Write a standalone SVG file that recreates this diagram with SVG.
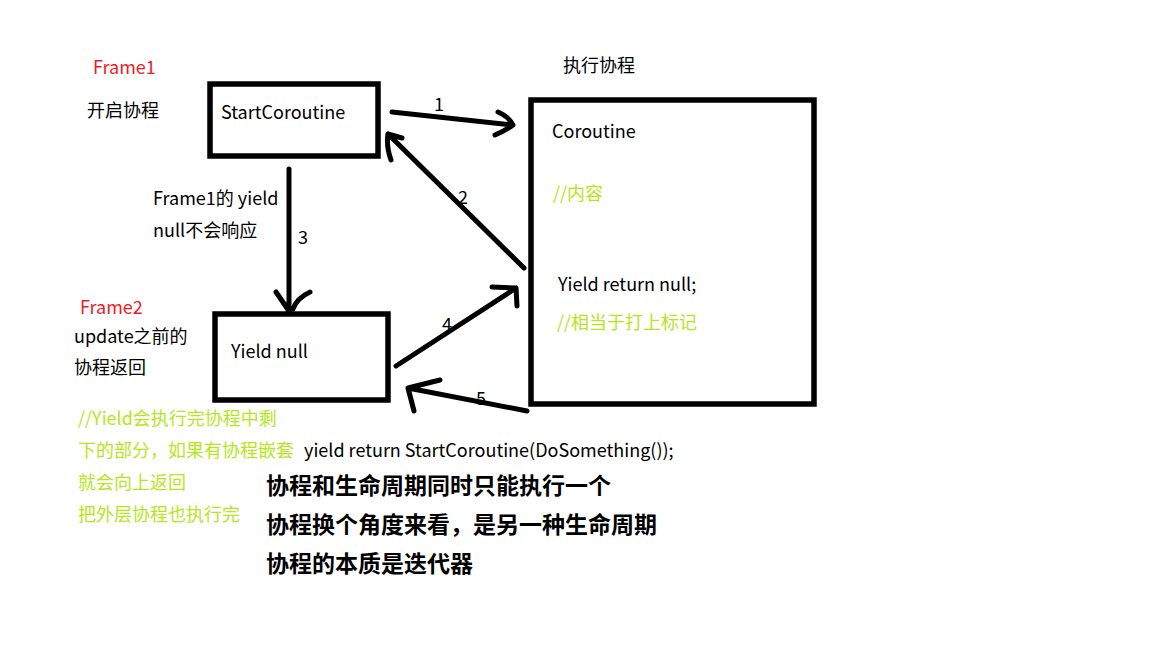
<svg xmlns="http://www.w3.org/2000/svg" width="1152" height="648" viewBox="0 0 1152 648">
<style>
.t{font-family:"Noto Sans CJK SC","Noto Sans",sans-serif;font-size:18px;fill:#000}
.r{fill:#ed1c24}
.g{fill:#b5e61d}
.b{font-weight:bold;font-size:23px}
.box{fill:none;stroke:#000;stroke-width:5.5}
.ln{fill:none;stroke:#000;stroke-width:5;stroke-linecap:round;stroke-linejoin:round}
</style>
<rect width="1152" height="648" fill="#fff"/>
<g id="start">
<rect class="box" x="210" y="84" width="168" height="72"/>
<text class="t" x="221" y="119">StartCoroutine</text>
</g>
<g id="coroutine">
<rect class="box" x="531" y="100" width="283" height="304"/>
<text class="t" x="552" y="138">Coroutine</text>
<text class="t g" x="553" y="200">//内容</text>
<text class="t" x="558" y="291">Yield return null;</text>
<text class="t g" x="557" y="329">//相当于打上标记</text>
</g>
<g id="yieldnull">
<rect class="box" x="215" y="314" width="173" height="86"/>
<text class="t" x="231" y="358">Yield null</text>
</g>
<g id="labels">
<text class="t r" x="93" y="74">Frame1</text>
<text class="t" x="87" y="117">开启协程</text>
<text class="t" x="563" y="72">执行协程</text>
<text class="t" x="153" y="205">Frame1的 yield</text>
<text class="t" x="153" y="237">null不会响应</text>
<text class="t r" x="80" y="314">Frame2</text>
<text class="t" x="74" y="343">update之前的</text>
<text class="t" x="74" y="374">协程返回</text>
<text class="t g" x="78" y="425">//Yield会执行完协程中剩</text>
<text class="t g" x="78" y="457">下的部分，如果有协程嵌套</text>
<text class="t" x="304" y="457">yield return StartCoroutine(DoSomething());</text>
<text class="t g" x="78" y="489">就会向上返回</text>
<text class="t g" x="78" y="521">把外层协程也执行完</text>
<text class="t b" x="266" y="494">协程和生命周期同时只能执行一个</text>
<text class="t b" x="266" y="533">协程换个角度来看，是另一种生命周期</text>
<text class="t b" x="266" y="572">协程的本质是迭代器</text>
</g>
<g id="connectors">
<path class="ln" d="M392 112 L513 125 M498 112 Q508 116 513 125 Q505 131 495 135"/>
<text class="t" x="434" y="111">1</text>
<path class="ln" d="M524 268 L388 134 M391 160 Q386 146 388 134 L402 138"/>
<text class="t" x="458" y="204">2</text>
<path class="ln" d="M289 169 L289 311 M276 292 L289 311 M310 292 Q297 298 293 309"/>
<text class="t" x="298" y="244">3</text>
<path class="ln" d="M396 366 L516 288 M492 287 L516 288 L517 306"/>
<text class="t" x="442" y="331">4</text>
<path class="ln" d="M527 411 L408 388 M440 380 L408 388 L414 411"/>
<text class="t" x="476" y="405">5</text>
</g>
</svg>
